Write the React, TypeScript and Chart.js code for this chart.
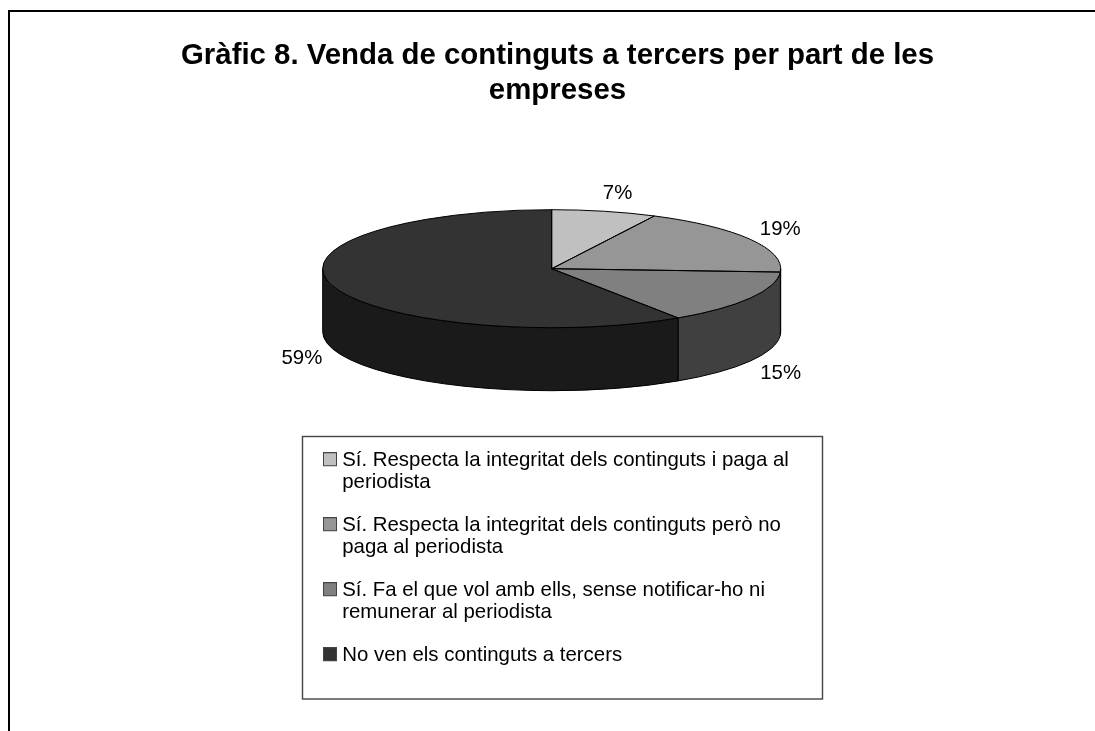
import React, { useEffect, useRef } from "react";
import { Chart, registerables } from "chart.js";

Chart.register(...registerables);

const titleLines = ["Gràfic 8. Venda de continguts a tercers per part de les", "empreses"];
const categories = [
  ["Sí. Respecta la integritat dels continguts i paga al", "periodista"],
  ["Sí. Respecta la integritat dels continguts però no", "paga al periodista"],
  ["Sí. Fa el que vol amb ells, sense notificar-ho ni", "remunerar al periodista"],
  ["No ven els continguts a tercers"],
];
const shareValues = [7.4, 18.5, 14.8, 59.3];
const topColors = ["#C0C0C0", "#969696", "#808080", "#333333"];
const wallColors = ["#606060", "#4B4B4B", "#404040", "#1A1A1A"];

const FONT = "'Liberation Sans', Arial, sans-serif";
const SQUASH = 59 / 229;
const DEPTH = 63;
const LEGEND_PADDING = 44.6;
const labelNudge = [[5, 2], [0, 0], [0, 2], [3, 4]];

function swatch(color: string) {
  const c = document.createElement("canvas");
  c.width = 14;
  c.height = 16;
  const x = c.getContext("2d")!;
  x.fillStyle = color;
  x.fillRect(0, 0, 14, 14);
  x.strokeStyle = "#444";
  x.lineWidth = 1;
  x.strokeRect(0.5, 0.5, 13, 13);
  return c;
}

const threeDPie = {
  id: "threeDPie",
  afterLayout(chart: any) {
    chart.chartArea = { left: 322.7, right: 780.7, top: 39.7, bottom: 497.7, width: 458, height: 458 };
    const t = chart.titleBlock;
    t.left = 0; t.right = 1115; t.width = 1115; t.top = 38; t.bottom = 110;
    const l = chart.legend;
    l.left = 328 - LEGEND_PADDING; l.right = 822; l.width = l.right - l.left;
    l.top = 450 - LEGEND_PADDING; l.bottom = 699; l.height = l.bottom - l.top;
  },
  beforeDraw(chart: any) {
    const { ctx } = chart;
    ctx.save();
    ctx.fillStyle = "#fff";
    ctx.fillRect(0, 0, chart.width, chart.height);
    // outer chart frame, cropped at the right and bottom
    ctx.strokeStyle = "#000";
    ctx.lineWidth = 2;
    ctx.beginPath();
    ctx.moveTo(9, 731);
    ctx.lineTo(9, 11);
    ctx.lineTo(1095, 11);
    ctx.stroke();
    // legend frame
    ctx.strokeStyle = "#444";
    ctx.lineWidth = 1.4;
    ctx.strokeRect(302.5, 436.5, 520, 262.5);
    ctx.restore();
  },
  beforeDatasetsDraw(chart: any) {
    const { ctx } = chart;
    const arcs = chart.getDatasetMeta(0).data;
    const { x: cx, y: cy } = arcs[0];
    ctx.save();
    ctx.strokeStyle = "#000";
    ctx.lineWidth = 1;
    arcs.forEach((arc: any, i: number) => {
      const r = arc.outerRadius;
      // Only the part of each slice facing the viewer has a visible wall
      const pieces: [number, number][] = [];
      for (const k of [-2, 0, 2]) {
        const a = Math.max(arc.startAngle + k * Math.PI, 0);
        const b = Math.min(arc.endAngle + k * Math.PI, Math.PI);
        if (b > a) pieces.push([a, b]);
      }
      pieces.forEach(([a, b]) => {
        ctx.beginPath();
        ctx.ellipse(cx, cy, r, r * SQUASH, 0, a, b);
        ctx.ellipse(cx, cy + DEPTH, r, r * SQUASH, 0, b, a, true);
        ctx.closePath();
        ctx.fillStyle = wallColors[i];
        ctx.fill();
        ctx.stroke();
      });
    });
    ctx.restore();
    // The library's arcs are drawn through this squash
    ctx.save();
    ctx.translate(cx, cy);
    ctx.scale(1, SQUASH);
    ctx.translate(-cx, -cy);
  },
  afterDatasetsDraw(chart: any) {
    const { ctx } = chart;
    ctx.restore();
    const arcs = chart.getDatasetMeta(0).data;
    const { x: cx, y: cy } = arcs[0];
    ctx.save();
    ctx.strokeStyle = "#000";
    ctx.lineWidth = 1;
    arcs.forEach((arc: any) => {
      const r = arc.outerRadius;
      ctx.beginPath();
      ctx.moveTo(cx, cy);
      ctx.ellipse(cx, cy, r, r * SQUASH, 0, arc.startAngle, arc.endAngle);
      ctx.closePath();
      ctx.stroke();
    });
    // Percentage labels placed around the rim
    ctx.fillStyle = "#000";
    ctx.font = `20.4px ${FONT}`;
    ctx.textAlign = "center";
    ctx.textBaseline = "middle";
    arcs.forEach((arc: any, i: number) => {
      const mid = (arc.startAngle + arc.endAngle) / 2;
      const r = arc.outerRadius;
      const c = Math.cos(mid);
      const s = Math.sin(mid);
      const lx = cx + (r + 35) * c + labelNudge[i][0];
      const ly = cy + 79 * s + (s > 0 ? DEPTH : 0) + labelNudge[i][1];
      ctx.fillText(`${Math.round(shareValues[i])}%`, lx, ly);
    });
    ctx.restore();
  },
};

export default function App() {
  const ref = useRef<HTMLCanvasElement>(null);
  useEffect(() => {
    const chart = new Chart(ref.current!, {
      type: "pie",
      data: {
        labels: categories.map((c) => c.join(" ")),
        datasets: [
          {
            data: shareValues,
            backgroundColor: topColors,
            borderWidth: 0,
            clip: false,
          } as any,
        ],
      },
      options: {
        responsive: false,
        animation: false,
        rotation: 0,
        layout: { padding: 0 },
        plugins: {
          title: {
            display: true,
            text: titleLines,
            color: "#000",
            font: { family: FONT, size: 29.4, weight: "bold", lineHeight: 1.19 },
            padding: 0,
          },
          legend: {
            display: true,
            position: "bottom",
            align: "start",
            labels: {
              color: "#000",
              font: { family: FONT, size: 20.4, lineHeight: 1.08 },
              usePointStyle: true,
              pointStyleWidth: 4,
              boxHeight: 14,
              padding: LEGEND_PADDING,
              generateLabels: () =>
                categories.map((text, i) => ({
                  text,
                  fillStyle: topColors[i],
                  pointStyle: swatch(topColors[i]),
                  index: i,
                })) as any,
            },
          },
          tooltip: { enabled: false },
        },
      } as any,
      plugins: [threeDPie],
    });
    return () => chart.destroy();
  }, []);
  return (
    <div style={{ position: "fixed", left: 0, top: 0, width: 1095, height: 731, background: "#fff", overflow: "hidden" }}>
      <canvas ref={ref} width={1095} height={731} style={{ display: "block" }} />
    </div>
  );
}
